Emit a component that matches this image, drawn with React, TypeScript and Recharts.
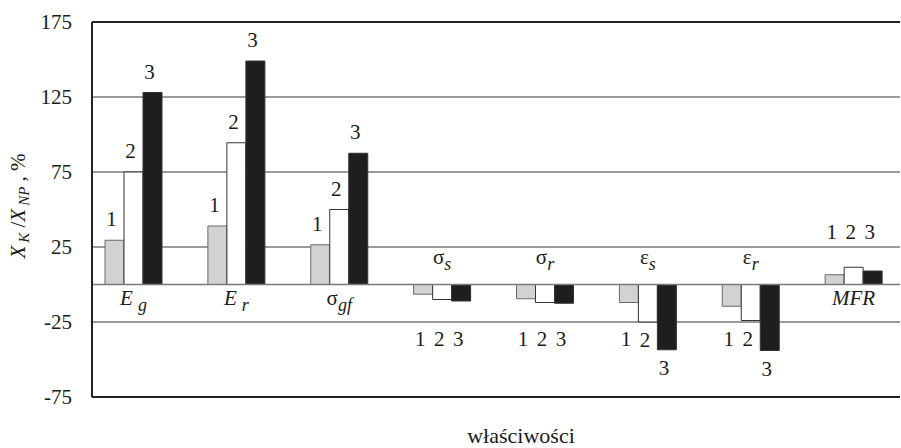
import React from "react";
import {
  BarChart,
  Bar,
  XAxis,
  YAxis,
  CartesianGrid,
  ReferenceLine,
  LabelList,
  Customized,
} from "recharts";

// Property names: base symbol | subscript
const categories = ["E|g", "E|r", "σ|gf", "σ|s", "σ|r", "ε|s", "ε|r", "MFR"];
const seriesNames = ["1", "2", "3"];
const series1 = [29.5, 39, 26.5, -6.5, -9.5, -12, -14.5, 6.5];
const series2 = [75, 94.5, 50, -10, -12, -25, -24, 11.5];
const series3 = [128, 149, 87.5, -11, -12.5, -43.5, -44, 9];
const yTicks = [-75, -25, 25, 75, 125, 175];
const yTitle = { main: "X", sub1: "K", sep: " /", main2: "X", sub2: "NP", tail: " , %" };
const xTitle = "właściwości";

const data = categories.map((cat, i) => ({
  cat,
  s1: series1[i],
  s2: series2[i],
  s3: series3[i],
}));

const FONT = `"Liberation Serif"`;
const INK = "#1a1a1a";
const serif = { fontFamily: FONT };

function barGeom(props: any) {
  const vb = props.viewBox ?? props;
  const x = Number(vb.x);
  const y = Number(vb.y);
  const w = Number(vb.width);
  const h = Number(vb.height);
  return { x, w, top: Math.min(y, y + h), bottom: Math.max(y, y + h) };
}

// Series number above positive bars / below negative bars, kept clear of the zero line
const makeNumLabel = (name: string, values: number[]) => (props: any) => {
  const v = values[props.index];
  const { x, w, top, bottom } = barGeom(props);
  const len = bottom - top;
  const ppu = Math.abs(v) > 0 ? len / Math.abs(v) : 1.5;
  const cx = x + w / 2 - 3;
  let cy: number;
  if (v >= 0) {
    cy = Math.min(top - 21, bottom - 35 * ppu);
  } else {
    cy = Math.max(bottom + 18, top + 36 * ppu);
  }
  return (
    <text x={cx} y={cy + 7} textAnchor="middle" style={serif} fontSize={21} fill={INK}>
      {name}
    </text>
  );
};

// Property name next to the zero line, on the side opposite the bars
const CategoryLabel = (props: any) => {
  const i = props.index;
  const [base, sub] = categories[i].split("|");
  const { x, w, top, bottom } = barGeom(props);
  const v = series2[i];
  const baseY = v >= 0 ? bottom + 20 : top - 21;
  const latin = /^[A-Za-z]/.test(base);
  return (
    <text x={x + w / 2} y={baseY} textAnchor="middle" style={serif} fontSize={21} fill={INK}>
      <tspan fontStyle={latin ? "italic" : "normal"}>{base}</tspan>
      {sub ? (
        <tspan fontStyle="italic" fontSize={18} dx={latin ? 5 : 0} dy={6}>
          {sub}
        </tspan>
      ) : null}
    </text>
  );
};

const Titles = () => (
  <g fill={INK}>
    <text transform="translate(25,206) rotate(-90)" textAnchor="middle" fontSize={21} style={serif}>
      <tspan fontStyle="italic">{yTitle.main}</tspan>
      <tspan fontStyle="italic" fontSize={15} dx={3} dy={4}>{yTitle.sub1}</tspan>
      <tspan dy={-4}>{yTitle.sep}</tspan>
      <tspan fontStyle="italic">{yTitle.main2}</tspan>
      <tspan fontStyle="italic" fontSize={15} dx={3} dy={4}>{yTitle.sub2}</tspan>
      <tspan dy={-4}>{yTitle.tail}</tspan>
    </text>
    <text x={521} y={443} textAnchor="middle" fontSize={22} style={serif}>
      {xTitle}
    </text>
  </g>
);

export default function App() {
  return (
    <div style={{ position: "absolute", left: 0, top: 0, background: "#fff" }}>
      <BarChart
        width={901}
        height={448}
        data={data}
        margin={{ top: 22, right: 1, left: 0, bottom: 51 }}
        barGap={0}
        barSize={19}
      >
        <CartesianGrid vertical={false} stroke="#7a7a7a" strokeWidth={1.5} />
        <XAxis dataKey="cat" hide padding={{ left: -10, right: -5 }} />
        <YAxis
          domain={[-75, 175]}
          ticks={yTicks}
          width={92}
          tickLine={false}
          tickSize={0}
          tickMargin={20}
          axisLine={{ stroke: "#222", strokeWidth: 2 }}
          tick={{ fontSize: 21, fill: INK, style: serif }}
        />
        <ReferenceLine y={0} stroke="#7a7a7a" strokeWidth={1.5} />
        <ReferenceLine y={175} stroke="#222" strokeWidth={2} />
        <ReferenceLine y={-75} stroke="#222" strokeWidth={2} />
        <Bar dataKey="s1" fill="#d2d2d2" stroke="#6a6a6a" strokeWidth={1} isAnimationActive={false}>
          <LabelList dataKey="s1" content={makeNumLabel(seriesNames[0], series1)} />
        </Bar>
        <Bar dataKey="s2" fill="#ffffff" stroke="#333333" strokeWidth={1} isAnimationActive={false}>
          <LabelList dataKey="s2" content={makeNumLabel(seriesNames[1], series2)} />
          <LabelList dataKey="cat" content={CategoryLabel} />
        </Bar>
        <Bar dataKey="s3" fill="#1e1e21" stroke="#333333" strokeWidth={1} isAnimationActive={false}>
          <LabelList dataKey="s3" content={makeNumLabel(seriesNames[2], series3)} />
        </Bar>
        <Customized component={Titles} />
      </BarChart>
    </div>
  );
}
